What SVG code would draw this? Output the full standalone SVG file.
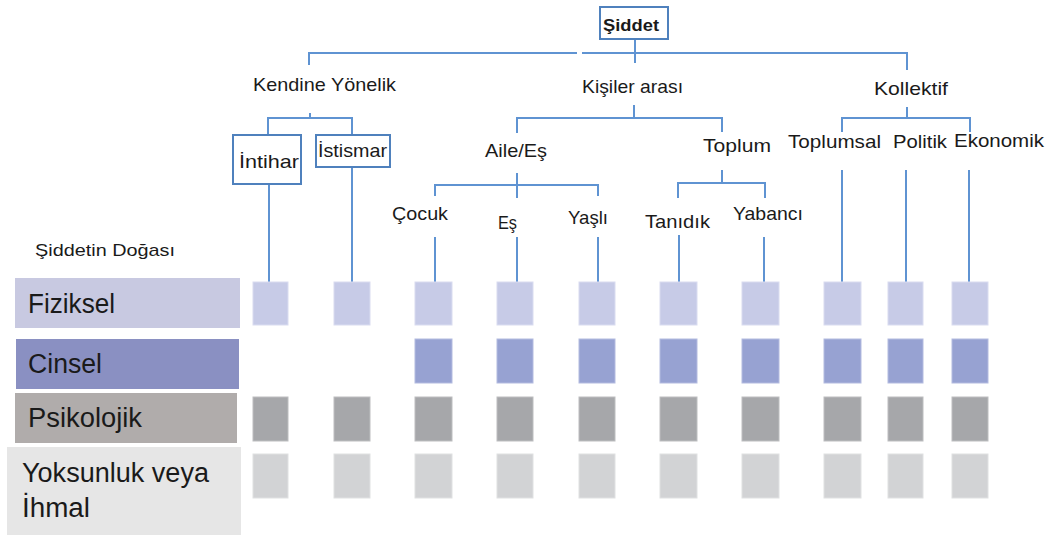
<svg xmlns="http://www.w3.org/2000/svg" width="1052" height="535" viewBox="0 0 1052 535">
<style>
  text { font-family: "Liberation Sans", Arial, sans-serif; fill: #1a1a1a; }
  .lbl { font-size: 19px; }
  .big { font-size: 27px; }
  .conn line { stroke: #5f93d2; stroke-width: 2; fill: none; }
  .box { fill: #ffffff; stroke: #4f81bd; stroke-width: 2; }
  .fiz { fill: #c7cbe7; stroke: #d9dcf0; stroke-width: 1; }
  .cin { fill: #97a2d2; stroke: #b3bbe0; stroke-width: 1; }
  .psi { fill: #a6a7aa; stroke: #bdbec0; stroke-width: 1; }
  .yok { fill: #d2d3d5; stroke: #e0e1e2; stroke-width: 1; }
</style>
<rect width="1052" height="535" fill="#ffffff"/>

<g id="connectors" class="conn">
  <line x1="635" y1="39" x2="635" y2="63"/>
  <line x1="309" y1="53" x2="577" y2="53"/>
  <line x1="582" y1="53" x2="908" y2="53"/>
  <line x1="309" y1="52" x2="309" y2="65"/>
  <line x1="907" y1="52" x2="907" y2="70"/>
  <line x1="310" y1="113" x2="310" y2="118"/>
  <line x1="267" y1="118" x2="353" y2="118"/>
  <line x1="268" y1="117" x2="268" y2="135"/>
  <line x1="352" y1="117" x2="352" y2="135"/>
  <line x1="269" y1="184" x2="269" y2="283"/>
  <line x1="352" y1="167" x2="352" y2="283"/>
  <line x1="634" y1="105" x2="634" y2="118"/>
  <line x1="516" y1="118" x2="723" y2="118"/>
  <line x1="517" y1="117" x2="517" y2="133"/>
  <line x1="722" y1="117" x2="722" y2="132"/>
  <line x1="517" y1="173" x2="517" y2="198"/>
  <line x1="434" y1="185" x2="599" y2="185"/>
  <line x1="435" y1="184" x2="435" y2="196"/>
  <line x1="598" y1="184" x2="598" y2="196"/>
  <line x1="435" y1="237" x2="435" y2="283"/>
  <line x1="517" y1="237" x2="517" y2="283"/>
  <line x1="598" y1="237" x2="598" y2="283"/>
  <line x1="722" y1="170" x2="722" y2="183"/>
  <line x1="677" y1="183" x2="766" y2="183"/>
  <line x1="678" y1="182" x2="678" y2="198"/>
  <line x1="765" y1="182" x2="765" y2="198"/>
  <line x1="679" y1="235" x2="679" y2="283"/>
  <line x1="764" y1="237" x2="764" y2="283"/>
  <line x1="907" y1="107" x2="907" y2="118"/>
  <line x1="841" y1="118" x2="971" y2="118"/>
  <line x1="842" y1="117" x2="842" y2="132"/>
  <line x1="970" y1="117" x2="970" y2="132"/>
  <line x1="842" y1="170" x2="842" y2="283"/>
  <line x1="906" y1="170" x2="906" y2="283"/>
  <line x1="969" y1="170" x2="969" y2="283"/>
</g>

<g id="node-siddet">
  <rect class="box" x="600" y="7" width="68" height="32"/>
  <text x="603" y="31" font-size="17" font-weight="bold" textLength="56" lengthAdjust="spacingAndGlyphs">Şiddet</text>
</g>
<g id="node-kendine"><text class="lbl" x="253" y="91" textLength="143" lengthAdjust="spacingAndGlyphs">Kendine Yönelik</text></g>
<g id="node-kisiler"><text class="lbl" x="582" y="93" textLength="101" lengthAdjust="spacingAndGlyphs">Kişiler arası</text></g>
<g id="node-kollektif"><text class="lbl" x="874" y="95" textLength="74" lengthAdjust="spacingAndGlyphs">Kollektif</text></g>
<g id="node-intihar">
  <rect class="box" x="233" y="135" width="68" height="49"/>
  <text class="lbl" x="239" y="168" textLength="60" lengthAdjust="spacingAndGlyphs">İntihar</text>
</g>
<g id="node-istismar">
  <rect class="box" x="316" y="135" width="74" height="32"/>
  <text class="lbl" x="318" y="157" textLength="69" lengthAdjust="spacingAndGlyphs">İstismar</text>
</g>
<g id="node-aile"><text class="lbl" x="485" y="157" textLength="62" lengthAdjust="spacingAndGlyphs">Aile/Eş</text></g>
<g id="node-toplum"><text class="lbl" x="703" y="152" textLength="68" lengthAdjust="spacingAndGlyphs">Toplum</text></g>
<g id="node-toplumsal"><text class="lbl" x="788" y="148" textLength="93" lengthAdjust="spacingAndGlyphs">Toplumsal</text></g>
<g id="node-politik"><text class="lbl" x="893" y="148" textLength="54" lengthAdjust="spacingAndGlyphs">Politik</text></g>
<g id="node-ekonomik"><text class="lbl" x="954" y="147" textLength="90" lengthAdjust="spacingAndGlyphs">Ekonomik</text></g>
<g id="node-cocuk"><text class="lbl" x="392" y="220" textLength="56" lengthAdjust="spacingAndGlyphs">Çocuk</text></g>
<g id="node-es"><text class="lbl" x="498" y="229" textLength="19" lengthAdjust="spacingAndGlyphs">Eş</text></g>
<g id="node-yasli"><text class="lbl" x="568" y="224" textLength="40" lengthAdjust="spacingAndGlyphs">Yaşlı</text></g>
<g id="node-tanidik"><text class="lbl" x="645" y="228" textLength="65" lengthAdjust="spacingAndGlyphs">Tanıdık</text></g>
<g id="node-yabanci"><text class="lbl" x="733" y="220" textLength="70" lengthAdjust="spacingAndGlyphs">Yabancı</text></g>

<g id="legend-title"><text x="35" y="256" font-size="17" textLength="140" lengthAdjust="spacingAndGlyphs">Şiddetin Doğası</text></g>
<g id="row-fiziksel">
  <rect x="15" y="278" width="225" height="50" fill="#c8c9e1"/>
  <text class="big" x="28" y="313" textLength="87" lengthAdjust="spacingAndGlyphs">Fiziksel</text>
</g>
<g id="row-cinsel">
  <rect x="16" y="339" width="223" height="50" fill="#8a90c2"/>
  <text class="big" x="28" y="373" textLength="74" lengthAdjust="spacingAndGlyphs">Cinsel</text>
</g>
<g id="row-psikolojik">
  <rect x="15" y="393" width="222" height="50" fill="#b0acab"/>
  <text class="big" x="28" y="427" textLength="114" lengthAdjust="spacingAndGlyphs">Psikolojik</text>
</g>
<g id="row-yoksunluk">
  <rect x="7" y="447" width="234" height="88" fill="#e6e6e6"/>
  <text class="big" x="22" y="482" textLength="187" lengthAdjust="spacingAndGlyphs">Yoksunluk veya</text>
  <text class="big" x="22" y="517" textLength="68" lengthAdjust="spacingAndGlyphs">İhmal</text>
</g>

<g id="cells-fiziksel">
  <rect class="fiz" x="253" y="282" width="35" height="43"/>
  <rect class="fiz" x="334" y="282" width="36" height="43"/>
  <rect class="fiz" x="415" y="282" width="37" height="43"/>
  <rect class="fiz" x="497" y="282" width="36" height="43"/>
  <rect class="fiz" x="579" y="282" width="36" height="43"/>
  <rect class="fiz" x="660" y="282" width="37" height="43"/>
  <rect class="fiz" x="742" y="282" width="37" height="43"/>
  <rect class="fiz" x="824" y="282" width="37" height="43"/>
  <rect class="fiz" x="888" y="282" width="35" height="43"/>
  <rect class="fiz" x="952" y="282" width="36" height="43"/>
</g>
<g id="cells-cinsel">
  <rect class="cin" x="415" y="339" width="37" height="44"/>
  <rect class="cin" x="497" y="339" width="36" height="44"/>
  <rect class="cin" x="579" y="339" width="36" height="44"/>
  <rect class="cin" x="660" y="339" width="37" height="44"/>
  <rect class="cin" x="742" y="339" width="37" height="44"/>
  <rect class="cin" x="824" y="339" width="37" height="44"/>
  <rect class="cin" x="888" y="339" width="35" height="44"/>
  <rect class="cin" x="952" y="339" width="36" height="44"/>
</g>
<g id="cells-psikolojik">
  <rect class="psi" x="253" y="397" width="35" height="44"/>
  <rect class="psi" x="334" y="397" width="36" height="44"/>
  <rect class="psi" x="415" y="397" width="37" height="44"/>
  <rect class="psi" x="497" y="397" width="36" height="44"/>
  <rect class="psi" x="579" y="397" width="36" height="44"/>
  <rect class="psi" x="660" y="397" width="37" height="44"/>
  <rect class="psi" x="742" y="397" width="37" height="44"/>
  <rect class="psi" x="824" y="397" width="37" height="44"/>
  <rect class="psi" x="888" y="397" width="35" height="44"/>
  <rect class="psi" x="952" y="397" width="36" height="44"/>
</g>
<g id="cells-yoksunluk">
  <rect class="yok" x="253" y="454" width="35" height="44"/>
  <rect class="yok" x="334" y="454" width="36" height="44"/>
  <rect class="yok" x="415" y="454" width="37" height="44"/>
  <rect class="yok" x="497" y="454" width="36" height="44"/>
  <rect class="yok" x="579" y="454" width="36" height="44"/>
  <rect class="yok" x="660" y="454" width="37" height="44"/>
  <rect class="yok" x="742" y="454" width="37" height="44"/>
  <rect class="yok" x="824" y="454" width="37" height="44"/>
  <rect class="yok" x="888" y="454" width="35" height="44"/>
  <rect class="yok" x="952" y="454" width="36" height="44"/>
</g>
</svg>
